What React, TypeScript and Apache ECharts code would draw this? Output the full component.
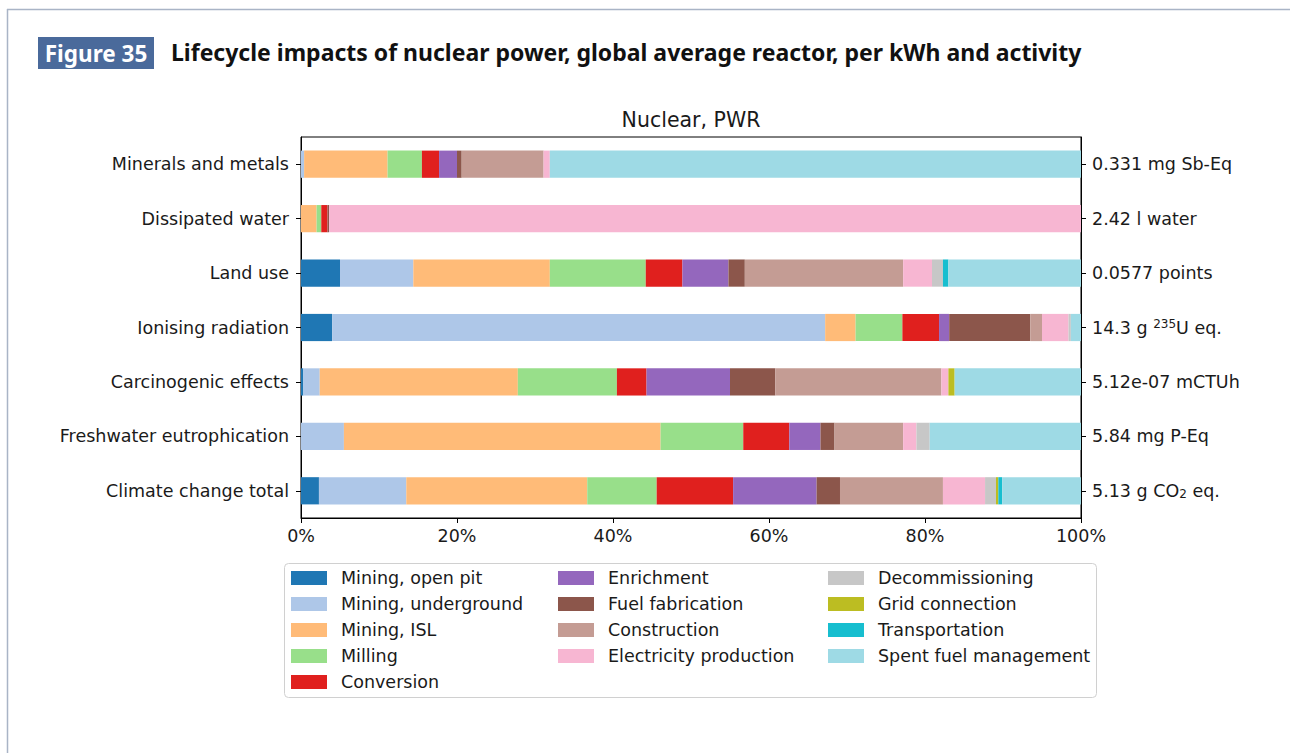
import React, { useEffect, useRef } from "react";
import * as echarts from "echarts";

const categories = [
  "Minerals and metals",
  "Dissipated water",
  "Land use",
  "Ionising radiation",
  "Carcinogenic effects",
  "Freshwater eutrophication",
  "Climate change total",
];

const totals = [
  "0.331 mg Sb-Eq",
  "2.42 l water",
  "0.0577 points",
  "14.3 g {sup|235}U eq.",
  "5.12e-07 mCTUh",
  "5.84 mg P-Eq",
  "5.13 g CO{sub|2} eq.",
];

const xTicks = [0, 20, 40, 60, 80, 100];

// shares in % per activity, in category order
const miningOpenPit = [0, 0, 5.0, 4.0, 0.3, 0, 2.3];
const miningUnderground = [0.4, 0, 9.4, 63.2, 2.1, 5.5, 11.2];
const miningISL = [10.7, 2.0, 17.5, 3.9, 25.4, 40.6, 23.2];
const milling = [4.4, 0.6, 12.3, 6.0, 12.7, 10.6, 8.9];
const conversion = [2.2, 0.8, 4.7, 4.7, 3.8, 5.9, 9.8];
const enrichment = [2.3, 0, 5.9, 1.3, 10.7, 4.0, 10.7];
const fuelFabrication = [0.6, 0.2, 2.1, 10.4, 5.8, 1.8, 3.0];
const construction = [10.5, 0, 20.3, 1.5, 21.3, 8.8, 13.2];
const electricityProduction = [0.8, 96.4, 3.7, 3.4, 0.9, 1.7, 5.4];
const decommissioning = [0, 0, 1.4, 0.3, 0, 1.7, 1.4];
const gridConnection = [0, 0, 0, 0, 0.8, 0, 0.3];
const transportation = [0, 0, 0.7, 0, 0, 0, 0.5];
const spentFuelManagement = [68.1, 0, 17.0, 1.3, 16.2, 19.4, 10.1];

const activities: [string, number[], string][] = [
  ["Mining, open pit", miningOpenPit, "#1f77b4"],
  ["Mining, underground", miningUnderground, "#aec7e8"],
  ["Mining, ISL", miningISL, "#ffbb78"],
  ["Milling", milling, "#98df8a"],
  ["Conversion", conversion, "#e0201e"],
  ["Enrichment", enrichment, "#9467bd"],
  ["Fuel fabrication", fuelFabrication, "#8c564b"],
  ["Construction", construction, "#c49c94"],
  ["Electricity production", electricityProduction, "#f7b6d2"],
  ["Decommissioning", decommissioning, "#c7c7c7"],
  ["Grid connection", gridConnection, "#bcbd22"],
  ["Transportation", transportation, "#17becf"],
  ["Spent fuel management", spentFuelManagement, "#9edae5"],
];

const legendCols = [
  activities.slice(0, 5).map((a) => a[0]),
  activities.slice(5, 9).map((a) => a[0]),
  activities.slice(9).map((a) => a[0]),
];

const FONT = "DejaVu Sans";
const FS = 17.5;

export default function App() {
  const ref = useRef<HTMLDivElement>(null);
  useEffect(() => {
    const chart = echarts.init(ref.current!, null, { renderer: "svg" });
    const legendLefts = [286, 553, 823];
    const option: any = {
      animation: false,
      backgroundColor: "#ffffff",
      textStyle: { fontFamily: FONT },
      grid: {
        left: 301,
        top: 137,
        width: 780,
        height: 381,
        show: true,
        borderColor: "#000",
        borderWidth: 1,
        backgroundColor: "transparent",
      },
      xAxis: {
        type: "value",
        min: 0,
        max: 100,
        interval: 20,
        splitLine: { show: false },
        axisLine: { show: true, lineStyle: { color: "#000" } },
        axisTick: { show: true, length: 5, lineStyle: { color: "#000" } },
        axisLabel: {
          formatter: (v: number) => (xTicks.includes(v) ? v + "%" : ""),
          color: "#1a1a1a",
          fontSize: FS,
          fontFamily: FONT,
          margin: 9,
        },
      },
      yAxis: [
        {
          type: "category",
          data: categories,
          inverse: true,
          position: "left",
          axisLine: { show: true, lineStyle: { color: "#000" } },
          axisTick: { show: true, length: 5, alignWithLabel: true, lineStyle: { color: "#000" } },
          axisLabel: { color: "#1a1a1a", fontSize: FS, fontFamily: FONT, margin: 12 },
        },
        {
          type: "category",
          data: totals,
          inverse: true,
          position: "right",
          axisLine: { show: true, lineStyle: { color: "#000" } },
          axisTick: { show: true, length: 5, alignWithLabel: true, lineStyle: { color: "#000" } },
          axisLabel: {
            color: "#1a1a1a",
            fontSize: FS,
            fontFamily: FONT,
            margin: 11,
            formatter: (v: string) => v,
            rich: {
              sup: { fontSize: 12, fontFamily: FONT, color: "#1a1a1a", verticalAlign: "top", padding: [0, 0, 8, 0] },
              sub: { fontSize: 12, fontFamily: FONT, color: "#1a1a1a", verticalAlign: "bottom", padding: [6, 0, 0, 0] },
            },
          },
        },
      ],
      legend: legendCols.map((names, i) => ({
        orient: "vertical",
        left: legendLefts[i],
        top: 564,
        data: names,
        selectedMode: false,
        itemWidth: 36,
        itemHeight: 14,
        itemGap: 8,
        icon: "rect",
        textStyle: { fontSize: FS, fontFamily: FONT, color: "#1a1a1a", lineHeight: 17.5, padding: [0, 0, 0, 9] },
      })),
      graphic: [
        { type: "line", shape: { x1: 7, y1: 9.5, x2: 1290, y2: 9.5 }, style: { stroke: "#a9b4c6", lineWidth: 1.5 } },
        { type: "line", shape: { x1: 7.5, y1: 9, x2: 7.5, y2: 753 }, style: { stroke: "#a9b4c6", lineWidth: 1.5 } },
        { type: "rect", shape: { x: 38, y: 37, width: 116, height: 32 }, style: { fill: "#4a6a9b" } },
        {
          type: "text",
          x: 96,
          y: 53,
          style: {
            text: "Figure 35",
            fill: "#fff",
            font: "bold 22.5px 'Noto Sans'",
            align: "center",
            verticalAlign: "middle",
          },
        },
        {
          type: "text",
          x: 171,
          y: 52,
          style: {
            text: "Lifecycle impacts of nuclear power, global average reactor, per kWh and activity",
            fill: "#111",
            font: "bold 23px 'Noto Sans'",
            align: "left",
            verticalAlign: "middle",
          },
        },
        {
          type: "text",
          x: 691,
          y: 120,
          style: {
            text: "Nuclear, PWR",
            fill: "#1a1a1a",
            font: "20.5px 'DejaVu Sans'",
            align: "center",
            verticalAlign: "middle",
          },
        },
        {
          type: "rect",
          z: -1,
          shape: { x: 284.5, y: 563.5, width: 812, height: 134, r: 4 },
          style: { fill: "#fff", stroke: "#d0d0d0", lineWidth: 1 },
        },
      ],
      series: activities.map(([name, values, color]) => ({
        name,
        type: "bar",
        stack: "total",
        barWidth: "50%",
        data: values,
        itemStyle: { color },
        emphasis: { disabled: true },
      })),
    };
    chart.setOption(option);
    return () => chart.dispose();
  }, []);
  return (
    <div
      ref={ref}
      style={{ position: "fixed", left: 0, top: 0, width: 1290, height: 753 }}
    />
  );
}
